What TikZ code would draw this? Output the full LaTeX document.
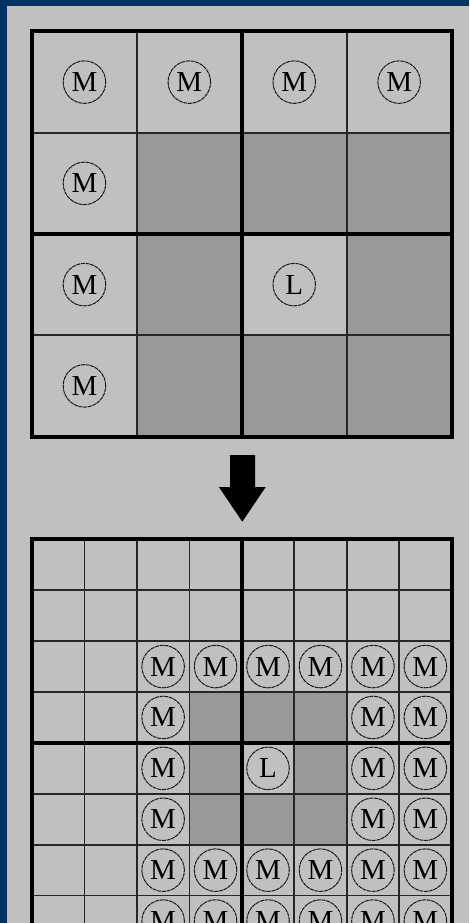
\documentclass[tikz,border=0pt]{standalone}
\usepackage{fontspec}
\setmainfont{Liberation Serif}
\definecolor{bgGray}{HTML}{C0C0C0}
\definecolor{cellDark}{HTML}{999999}
\definecolor{navy}{HTML}{003366}
\begin{document}
\begin{tikzpicture}[x=1pt,y=-1pt,
  thinline/.style={line width=1.6pt, draw=black!85},
  thickline/.style={line width=4pt, draw=black},
  markc/.style={circle, draw=black!90, line width=1pt, dash pattern=on 4pt off 0.7pt,
    minimum size=42.5pt, inner sep=0pt, font=\fontsize{29}{29}\selectfont},
  darkcell/.style={fill=cellDark}
]
\useasboundingbox (0,0) rectangle (469,923);
\clip (0,0) rectangle (469,923);
\fill[bgGray] (0,0) rectangle (469,923);
\fill[navy] (0,0) rectangle (7,923);
\fill[navy] (0,0) rectangle (469,6);

% ---------- top grid 4x4 ----------
\def\tw{104.9}\def\th{101.25}
\foreach \c/\r in {1/1,2/1,3/1,1/2,3/2,1/3,2/3,3/3}
  \fill[darkcell] ({32+\c*\tw},{31.5+\r*\th}) rectangle +(\tw,\th);
\foreach \i in {1,3} {
  \draw[thinline] ({32+\i*\tw},31.5) -- ++(0,{4*\th});
  \draw[thinline] (32,{31.5+\i*\th}) -- ++({4*\tw},0);
}
\draw[thickline] (32,{31.5+2*\th}) -- ++({4*\tw},0);
\draw[thickline] ({32+2*\tw},31.5) -- ++(0,{4*\th});
\draw[thickline] (32,31.5) rectangle ++({4*\tw},{4*\th});
\foreach \c/\r/\t in {0/0/M,1/0/M,2/0/M,3/0/M,0/1/M,0/2/M,0/3/M,2/2/L}
  \node[markc] (t-\c-\r) at ({32+(\c+0.5)*\tw},{31.5+(\r+0.5)*\th}) {\t};

% ---------- arrow ----------
\fill[black] (230,455) -- (255,455) -- (255,487) -- (265.7,487) -- (242.3,521.7)
  -- (218.9,487) -- (230,487) -- cycle;

% ---------- bottom grid 8x8 ----------
\def\bw{52.45}\def\bh{50.9}
\foreach \c/\r in {3/3,4/3,5/3,3/4,5/4,3/5,4/5,5/5}
  \fill[darkcell] ({32+\c*\bw},{539.3+\r*\bh}) rectangle +(\bw,\bh);
\foreach \i in {1,2,3,5,6,7} {
  \draw[thinline] ({32+\i*\bw},539.3) -- ++(0,{8*\bh});
  \draw[thinline] (32,{539.3+\i*\bh}) -- ++({8*\bw},0);
}
\draw[thickline] (32,{539.3+4*\bh}) -- ++({8*\bw},0);
\draw[thickline] ({32+4*\bw},539.3) -- ++(0,{8*\bh});
\draw[thickline] (32,539.3) rectangle ++({8*\bw},{8*\bh});
\foreach \c/\r in {2/2,3/2,4/2,5/2,6/2,7/2,2/3,6/3,7/3,2/4,6/4,7/4,2/5,6/5,7/5,
  2/6,3/6,4/6,5/6,6/6,7/6,2/7,3/7,4/7,5/7,6/7,7/7}
  \node[markc] (b-\c-\r) at ({32+(\c+0.5)*\bw},{539.3+(\r+0.5)*\bh}) {M};
\node[markc] (b-4-4) at ({32+4.5*\bw},{539.3+4.5*\bh}) {L};
\end{tikzpicture}
\end{document}
